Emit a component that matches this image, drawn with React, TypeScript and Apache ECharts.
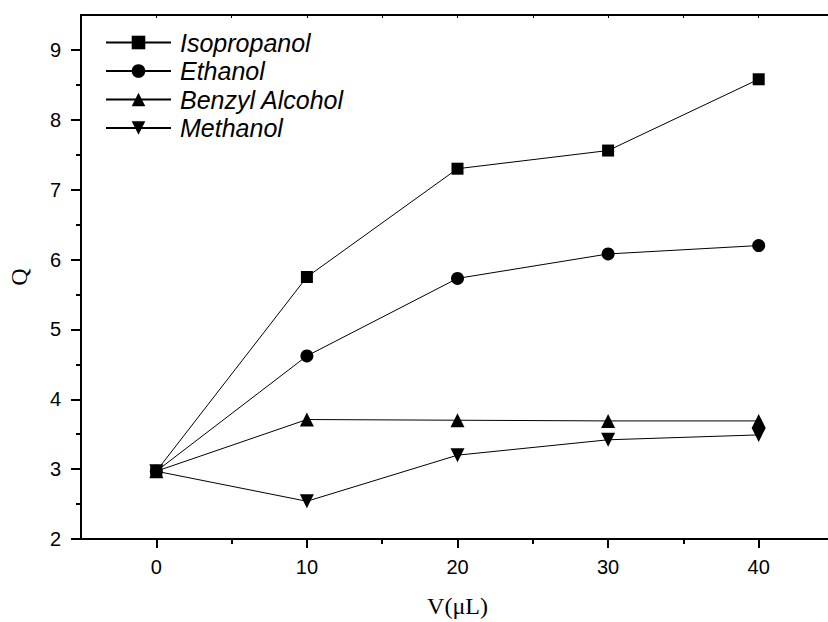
import React, { useEffect, useRef } from "react";
import * as echarts from "echarts";

const volumes = [0, 10, 20, 30, 40];
const isopropanol = [2.97, 5.75, 7.3, 7.56, 8.58];
const ethanol = [2.97, 4.62, 5.73, 6.08, 6.2];
const benzylAlcohol = [2.97, 3.71, 3.7, 3.69, 3.69];
const methanol = [2.97, 2.54, 3.2, 3.42, 3.49];

const xMajorTicks = [0, 10, 20, 30, 40];
const xMinorTicks = [5, 15, 25, 35];
const yMajorTicks = [2, 3, 4, 5, 6, 7, 8, 9];
const yMinorTicks = [2.5, 3.5, 4.5, 5.5, 6.5, 7.5, 8.5];
const topTicks = [-5, 0, 5, 10, 15, 20, 25, 30, 35, 40, 45];

const seriesDefs = [
  { name: "Isopropanol", data: isopropanol, symbol: "rect", size: 12 },
  { name: "Ethanol", data: ethanol, symbol: "circle", size: 13 },
  { name: "Benzyl Alcohol", data: benzylAlcohol, symbol: "triangle", size: 14 },
  { name: "Methanol", data: methanol, symbol: "path://M0,0 L10,0 L5,9 Z", size: 14 },
];

export default function App() {
  const ref = useRef<HTMLDivElement>(null);
  useEffect(() => {
    if (!ref.current) return;
    const chart = echarts.init(ref.current, undefined, { renderer: "svg" });
    const lbl = { fontFamily: "Liberation Sans, Arial", fontSize: 20, color: "#000" };
    const xBase = { type: "value", min: -5, max: 45, gridIndex: 0 };
    const yBase = { type: "value", min: 2, max: 9.5, gridIndex: 0 };
    chart.setOption({
      animation: false,
      backgroundColor: "#fff",
      grid: { left: 81, top: 15, width: 753, height: 524, containLabel: false, outerBoundsMode: "none" },
      legend: {
        orient: "vertical",
        left: 105,
        top: 30,
        padding: 0,
        itemWidth: 65,
        itemHeight: 17,
        itemGap: 3.5,
        textStyle: {
          fontFamily: "Liberation Sans, Arial",
          fontStyle: "italic",
          fontSize: 25,
          lineHeight: 17,
          color: "#000",
          padding: [0, 0, 0, 4],
        },
        data: seriesDefs.map((s) => s.name),
      },
      xAxis: [
        {
          ...xBase,
          position: "bottom",
          name: "V(μL)",
          nameLocation: "middle",
          nameGap: 55,
          nameTextStyle: { fontFamily: "Liberation Serif, Times New Roman", fontSize: 24, color: "#000" },
          axisLine: { show: true, onZero: false, lineStyle: { color: "#000", width: 2 } },
          axisTick: { show: true, inside: false, length: 9, customValues: xMajorTicks, lineStyle: { color: "#000", width: 2 } },
          axisLabel: { ...lbl, margin: 18, customValues: xMajorTicks },
          splitLine: { show: false },
        },
        {
          ...xBase,
          position: "bottom",
          axisLine: { show: false, onZero: false },
          axisTick: { show: true, inside: false, length: 5, customValues: xMinorTicks, lineStyle: { color: "#000", width: 2 } },
          axisLabel: { show: false },
          splitLine: { show: false },
        },
        {
          ...xBase,
          position: "top",
          axisLine: { show: true, onZero: false, lineStyle: { color: "#000", width: 2 } },
          axisTick: { show: true, inside: true, length: 3, customValues: topTicks, lineStyle: { color: "#000", width: 1 } },
          axisLabel: { show: false },
          splitLine: { show: false },
        },
      ],
      yAxis: [
        {
          ...yBase,
          position: "left",
          name: "Q",
          nameLocation: "middle",
          nameGap: 50,
          nameRotate: 90,
          nameTextStyle: { fontFamily: "Liberation Serif, Times New Roman", fontSize: 24, color: "#000" },
          axisLine: { show: true, onZero: false, lineStyle: { color: "#000", width: 2 } },
          axisTick: { show: true, inside: false, length: 10, customValues: yMajorTicks, lineStyle: { color: "#000", width: 2 } },
          axisLabel: { ...lbl, margin: 20, customValues: yMajorTicks },
          splitLine: { show: false },
        },
        {
          ...yBase,
          position: "left",
          axisLine: { show: false, onZero: false },
          axisTick: { show: true, inside: false, length: 5, customValues: yMinorTicks, lineStyle: { color: "#000", width: 2 } },
          axisLabel: { show: false },
          splitLine: { show: false },
        },
      ],
      series: seriesDefs.map((s) => ({
        name: s.name,
        type: "line",
        xAxisIndex: 0,
        yAxisIndex: 0,
        data: volumes.map((v, i) => [v, s.data[i]]),
        symbol: s.symbol,
        symbolSize: s.size,
        showSymbol: true,
        lineStyle: { color: "#000", width: 1 },
        itemStyle: { color: "#000", borderWidth: 0 },
        emphasis: { disabled: true },
      })),
    });
    return () => chart.dispose();
  }, []);
  return (
    <div
      ref={ref}
      style={{ position: "fixed", left: 0, top: 0, width: 828, height: 622, background: "#fff" }}
    />
  );
}
